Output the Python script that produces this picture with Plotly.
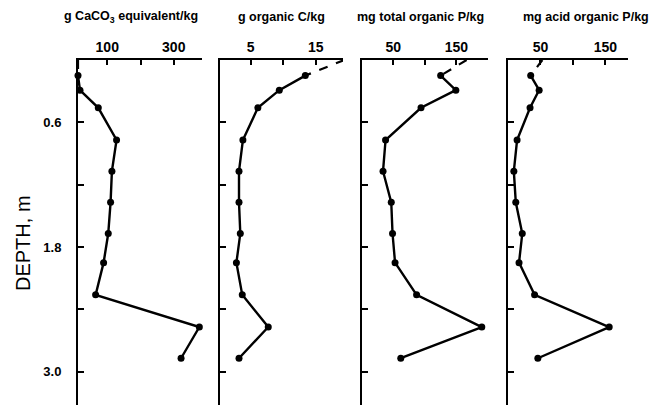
import plotly.graph_objects as go

# ---- data ----
depth = [0.0, 0.15, 0.29, 0.46, 0.77, 1.07, 1.37, 1.67, 1.95, 2.26, 2.57, 2.87]
caco3 = [12, 12, 18, 73, 128, 114, 110, 103, 89, 65, 377, 322]
org_c = [19.4, 13.4, 9.4, 6.1, 3.8, 3.2, 3.2, 3.4, 2.8, 3.7, 7.7, 3.2]
tot_p = [166, 125, 149, 94, 38, 34, 47, 49, 53, 87, 190, 62]
acid_p = [53, 35, 48, 34, 14, 9, 12, 22, 17, 41, 156, 46]

titles = ["g CaCO<sub>3</sub> equivalent/kg", "g organic C/kg",
          "mg total organic P/kg", "mg acid organic P/kg"]
x_tickvals = [[100, 200, 300], [5, 10, 15], [50, 100, 150], [50, 100, 150]]
x_ticktext = [["100", "", "300"], ["5", "", "15"], ["50", "", "150"], ["50", "", "150"]]
y_tickvals = [0.6, 1.2, 1.8, 2.4, 3.0]
y_ticktext = ["0.6", "", "1.8", "", "3.0"]

# ---- layout geometry (reference pixel coords; page body adds an 8px offset) ----
OFF = 8
W, H = 672 - OFF, 409 - OFF


def px(x):
    return (x - OFF) / W


def py(y):
    return 1 - (y - OFF) / H


x_doms = [(78, 202), (219.5, 343), (361.5, 487.5), (508, 628)]
x_ranges = [[12, 385], [0.2, 19.2], [0, 199], [0, 185]]
title_cx = [131, 281, 420, 586]
y_dom = [py(405), py(60)]
y_range = [3.32, 0]


def bold(t):
    return "<b>%s</b>" % t if t else ""


series = [caco3, org_c, tot_p, acid_p]
fig = go.Figure()
FONT = "Liberation Sans, Arial, sans-serif"

for i, vals in enumerate(series):
    sfx = "" if i == 0 else str(i + 1)
    xa, ya = "x" + sfx, "y" + sfx
    # dashed extrapolation to the surface
    fig.add_trace(go.Scatter(x=vals[:2], y=depth[:2], mode="lines",
                             line=dict(color="black", width=2.2, dash="dash"),
                             xaxis=xa, yaxis=ya, showlegend=False))
    fig.add_trace(go.Scatter(x=vals[1:], y=depth[1:], mode="lines+markers",
                             line=dict(color="black", width=2.4),
                             marker=dict(color="black", size=7),
                             cliponaxis=False,
                             xaxis=xa, yaxis=ya, showlegend=False))
    d0, d1 = x_doms[i]
    fig.layout["xaxis" + sfx] = dict(
        domain=[px(d0), px(d1)], range=x_ranges[i], side="top", anchor=ya,
        showline=True, linecolor="black", linewidth=2, showgrid=False, zeroline=False,
        ticks="inside", ticklen=5, tickwidth=1.5, tickcolor="black",
        tickmode="array",
        tickvals=x_tickvals[i], ticktext=[bold(t) for t in x_ticktext[i]],
        tickfont=dict(family=FONT, size=14, color="black"))
    ydict = dict(
        domain=y_dom, range=y_range, anchor=xa,
        showline=True, linecolor="black", linewidth=2, showgrid=False, zeroline=False,
        ticks="inside", ticklen=6, tickwidth=1.5, tickcolor="black",
        tickmode="array", tickvals=y_tickvals,
        tickfont=dict(family=FONT, size=13, color="black"))
    if i == 0:
        ydict.update(ticktext=[bold(t) for t in y_ticktext], ticklabelstandoff=12)
    else:
        ydict.update(showticklabels=False)
    fig.layout["yaxis" + sfx] = ydict
    fig.add_annotation(text="<b>" + titles[i] + "</b>", x=px(title_cx[i]), y=py(17),
                       xref="paper", yref="paper", showarrow=False,
                       xanchor="center", yanchor="middle",
                       font=dict(family=FONT, size=12.5, color="black"))

fig.add_annotation(text="DEPTH, m", x=px(23), y=py(243), xref="paper", yref="paper",
                   showarrow=False, textangle=-90, xanchor="center", yanchor="middle",
                   font=dict(family=FONT, size=20, color="black"))

fig.update_layout(width=W, height=H, margin=dict(l=0, r=0, t=0, b=0),
                  paper_bgcolor="white", plot_bgcolor="white")
fig.write_html("out.html")
